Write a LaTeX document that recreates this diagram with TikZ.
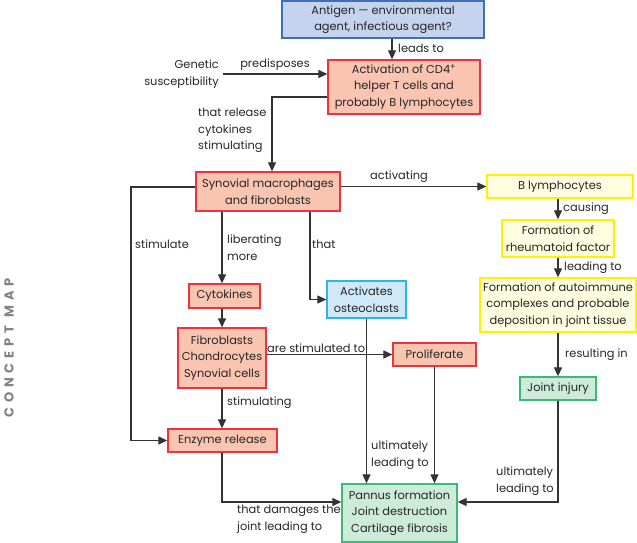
\documentclass[tikz,border=0pt]{standalone}
\usepackage{fontspec}
\setmainfont{Poppins}
\usetikzlibrary{arrows.meta}
\definecolor{bluefill}{HTML}{C5D3EE}
\definecolor{blueline}{HTML}{3F6FB5}
\definecolor{redfill}{HTML}{F9C4B0}
\definecolor{redline}{HTML}{EE3340}
\definecolor{yelfill}{HTML}{FFFDE0}
\definecolor{yelline}{HTML}{FFF200}
\definecolor{cyanfill}{HTML}{CFE9F8}
\definecolor{cyanline}{HTML}{2CB5E8}
\definecolor{grnfill}{HTML}{CDEBD9}
\definecolor{grnline}{HTML}{3DB878}
\definecolor{linecol}{HTML}{333333}
\definecolor{titlegray}{HTML}{808285}
\tikzset{
  box/.style={draw, line width=1.3pt, align=center, inner sep=0pt, font=\fontsize{11.4}{16.5}\selectfont, text=black!85},
  bluebox/.style={box, draw=blueline, fill=bluefill},
  redbox/.style={box, draw=redline, fill=redfill},
  yelbox/.style={box, draw=yelline, fill=yelfill},
  cyanbox/.style={box, draw=cyanline, fill=cyanfill},
  grnbox/.style={box, draw=grnline, fill=grnfill},
  lbl/.style={inner sep=0pt, font=\fontsize{11.4}{16.5}\selectfont, text=black!85},
  arr/.style={draw=linecol, line width=1.2pt, -{Triangle[length=9pt,width=8pt]}},
  ln/.style={draw=linecol, line width=1.2pt}
}
\begin{document}
\begin{tikzpicture}[x=1pt,y=-1pt]
\useasboundingbox (0,0) rectangle (637,543);
% boxes
\node[bluebox, minimum width=202pt, minimum height=37pt] (antigen) at (383,19.5) {Antigen --- environmental\\agent, infectious agent?};
\node[redbox, minimum width=152pt, minimum height=54pt] (activ) at (404,87) {Activation of CD4\textsuperscript{+}\\helper T cells and\\probably B lymphocytes};
\node[redbox, minimum width=144pt, minimum height=39pt] (synov) at (268,191.5) {Synovial macrophages\\and fibroblasts};
\node[yelbox, minimum width=146pt, minimum height=23pt] (blym) at (560,186.5) {B lymphocytes};
\node[yelbox, minimum width=112pt, minimum height=37pt] (rf) at (558,238.5) {Formation of\\rheumatoid factor};
\node[yelbox, minimum width=156pt, minimum height=54pt] (auto) at (558,305) {Formation of autoimmune\\complexes and probable\\deposition in joint tissue};
\node[grnbox, minimum width=76pt, minimum height=23pt] (joint) at (558,388.5) {Joint injury};
\node[redbox, minimum width=71pt, minimum height=24pt] (cyto) at (224.5,296) {Cytokines};
\node[cyanbox, minimum width=79pt, minimum height=37pt] (osteo) at (366.5,299.5) {Activates\\osteoclasts};
\node[redbox, minimum width=88pt, minimum height=60pt] (fibro) at (222,358) {Fibroblasts\\Chondrocytes\\Synovial cells};
\node[redbox, minimum width=83pt, minimum height=23pt] (prolif) at (434.5,354.5) {Proliferate};
\node[redbox, minimum width=109pt, minimum height=23pt] (enzyme) at (222.5,440.5) {Enzyme release};
\node[grnbox, minimum width=115pt, minimum height=58pt] (pannus) at (399.5,513) {Pannus formation\\Joint destruction\\Cartilage fibrosis};
% side title
\node[rotate=90, text=titlegray, font=\fontsize{13}{14}\bfseries\addfontfeature{LetterSpace=38}] (title) at (9,348) {CONCEPT MAP};
% genetic
\node[lbl, align=right, anchor=east] (gen) at (219,74) {Genetic\\susceptibility};
% connectors
\draw[arr] (antigen.south -| 392,0) -- (activ.north -| 392,0);
\node[lbl, anchor=west] (l1) at (398,48) {leads to};
\draw[arr] (gen.east -| 223,0) -- (gen.east -| activ.west);
\node[lbl, anchor=south] (l2) at (275,71) {predisposes};
\draw[arr] (activ.west |- 0,97) -| (synov.north -| 272,0);
\node[lbl, anchor=north west, align=left] (l3) at (198,108) {that release\\cytokines\\stimulating};
\draw[arr] (synov.east |- blym.west) -- (blym.west);
\node[lbl, anchor=south] (l4) at (399,183) {activating};
\coordinate (lc1) at (131,187);
\draw[arr] (synov.west |- lc1) -- (lc1) |- (enzyme.west);
\node[lbl, anchor=west] (l5) at (135,244) {stimulate};
\draw[arr] (synov.south -| 222,0) -- (cyto.north -| 222,0);
\node[lbl, anchor=north west, align=left] (l6) at (227,235) {liberating\\more};
\draw[arr] (synov.south -| 310,0) |- (osteo.west);
\node[lbl, anchor=west] (l7) at (312,244) {that};
\draw[arr] (cyto.south -| 222,0) -- (fibro.north -| 222,0);
\draw[arr] (fibro.east |- prolif.west) -- (prolif.west);
\node[lbl, anchor=south west] (l8) at (267,353) {are stimulated to};
\draw[arr] (osteo.south) -- (osteo.south |- pannus.north);
\draw[arr] (prolif.south) -- (prolif.south |- pannus.north);
\node[lbl, anchor=north west, align=left] (l9) at (371,441) {ultimately\\leading to};
\draw[arr] (fibro.south -| 222,0) -- (enzyme.north -| 222,0);
\node[lbl, anchor=west] (l10) at (227,403) {stimulating};
\draw[arr] (enzyme.south -| 222,0) |- (pannus.west |- 0,502);
\node[lbl, anchor=north west, align=left] (l11) at (237,505) {that damages the\\joint leading to};
\draw[arr] (blym.south -| 558,0) -- (rf.north -| 558,0);
\node[lbl, anchor=west] (l12) at (563,209) {causing};
\draw[arr] (rf.south -| 558,0) -- (auto.north -| 558,0);
\node[lbl, anchor=west] (l13) at (564,268) {leading to};
\draw[arr] (auto.south -| 558,0) -- (joint.north -| 558,0);
\node[lbl, anchor=west] (l14) at (565,355) {resulting in};
\draw[arr] (joint.south -| 558,0) |- (pannus.east |- 0,502);
\node[lbl, anchor=north west, align=left] (l15) at (496,467) {ultimately\\leading to};
\end{tikzpicture}
\end{document}
